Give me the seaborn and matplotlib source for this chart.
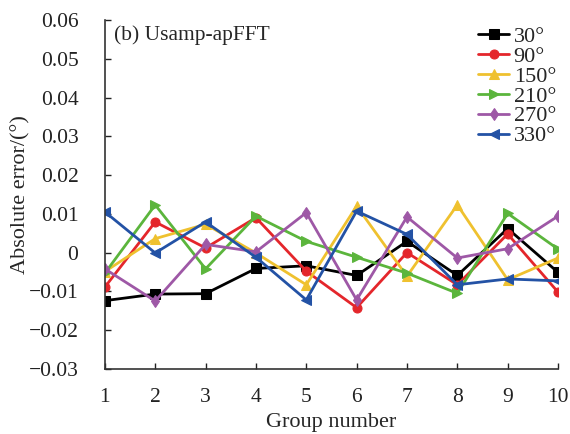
import numpy as np
import pandas as pd
import seaborn as sns
import matplotlib
matplotlib.use("Agg")
import matplotlib.pyplot as plt

groups = [1, 2, 3, 4, 5, 6, 7, 8, 9, 10]
err_30 = [-0.0124, -0.0107, -0.0106, -0.0041, -0.0034, -0.0059, 0.0029, -0.0059, 0.0062, -0.0051]
err_90 = [-0.0089, 0.0079, 0.0012, 0.0090, -0.0048, -0.0142, 0.0000, -0.0083, 0.0048, -0.0102]
err_150 = [-0.0049, 0.0036, 0.0073, -0.0001, -0.0083, 0.0120, -0.0061, 0.0123, -0.0070, -0.0014]
err_210 = [-0.0053, 0.0123, -0.0042, 0.0094, 0.0029, -0.0012, -0.0053, -0.0105, 0.0101, 0.0009]
err_270 = [-0.0042, -0.0125, 0.0021, 0.0002, 0.0103, -0.0122, 0.0092, -0.0014, 0.0010, 0.0094]
err_330 = [0.0105, -0.0001, 0.0079, -0.0012, -0.0122, 0.0107, 0.0047, -0.0083, -0.0068, -0.0073]

labels = ["30°", "90°", "150°", "210°", "270°", "330°"]
series = [err_30, err_90, err_150, err_210, err_270, err_330]

colors = ["#000000", "#e4262b", "#efc12f", "#5bb53c", "#9e58a6", "#2352a5"]
markers = ["s", "o", "^", ">", "d", "<"]

sns.set_style("ticks")
plt.rcParams["font.family"] = ["Liberation Serif", "DejaVu Serif"]

fig = plt.figure(figsize=(5.7, 4.34), dpi=100)
ax = fig.add_axes([0.184, 0.150, 0.795, 0.804])

for lab, vals, c, m in zip(labels, series, colors, markers):
    df = pd.DataFrame({"group": groups, "err": vals})
    sns.lineplot(data=df, x="group", y="err", ax=ax, color=c, marker=m,
                 markersize=6.5, markeredgecolor=c, linewidth=2, label=lab)

ax.set_xlim(1, 10)
ax.set_ylim(-0.03, 0.06)
ax.set_xticks(groups)
ax.set_yticks(np.arange(-0.03, 0.061, 0.01))
ax.set_yticklabels(["\u22120.03", "\u22120.02", "\u22120.01", "0", "0.01", "0.02",
                    "0.03", "0.04", "0.05", "0.06"])
ax.tick_params(direction="in", length=4, width=1, labelsize=15.5, colors="#222222")
ax.tick_params(axis="x", pad=14)
ax.tick_params(axis="y", pad=19)
for s in ["top", "right"]:
    ax.spines[s].set_visible(False)
for s in ["left", "bottom"]:
    ax.spines[s].set_linewidth(1.2)
    ax.spines[s].set_color("#333333")

ax.set_xlabel("Group number", fontsize=16, labelpad=4)
ax.set_ylabel("Absolute error/(°)", fontsize=16, labelpad=-1)
ax.text(0.02, 0.985, "(b) Usamp-apFFT", transform=ax.transAxes, fontsize=15.5,
        va="top", ha="left")

ax.legend(loc="upper right", bbox_to_anchor=(1.025, 1.02), frameon=False,
          fontsize=16, handlelength=1.4, handletextpad=0.2, labelspacing=-0.03,
          borderaxespad=0.2)

fig.savefig("out.png", dpi=100)
